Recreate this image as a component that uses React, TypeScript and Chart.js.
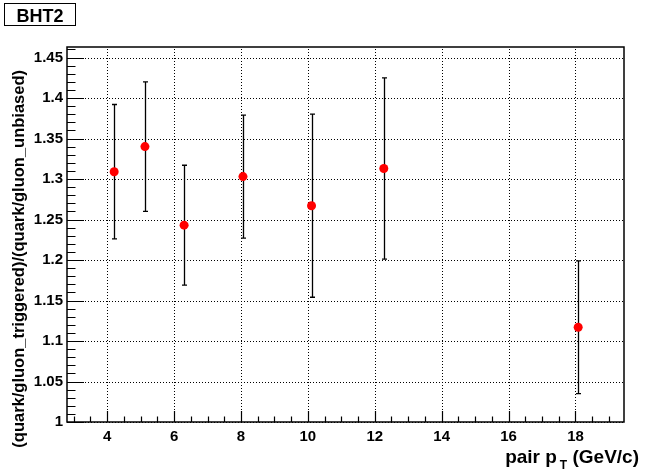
import React, { useEffect, useRef } from "react";
import { Chart, registerables } from "chart.js";

Chart.register(...registerables);

const xVals = [4.21, 5.13, 6.3, 8.06, 10.11, 12.27, 18.08];
const yVals = [1.309, 1.340, 1.243, 1.303, 1.267, 1.313, 1.117];
const yErrs = [0.083, 0.080, 0.074, 0.076, 0.113, 0.112, 0.082];

const xTicks = [4, 6, 8, 10, 12, 14, 16, 18];
const yTicks = [1, 1.05, 1.1, 1.15, 1.2, 1.25, 1.3, 1.35, 1.4, 1.45];
const yTickLabels = ["1", "1.05", "1.1", "1.15", "1.2", "1.25", "1.3", "1.35", "1.4", "1.45"];

const X_MIN = 2.8;
const X_MAX = 19.45;
const Y_MIN = 1.0;
const Y_MAX = 1.463;

const FONT = "'Liberation Sans', Arial, Helvetica, sans-serif";

const rootPlugin = {
  id: "rootStyle",
  beforeDatasetsDraw(chart: any) {
    const ctx = chart.ctx;
    const { left, right, top, bottom } = chart.chartArea;
    const xs = chart.scales.x;
    const ys = chart.scales.y;
    ctx.save();
    ctx.strokeStyle = "#000";
    ctx.lineWidth = 1;
    ctx.setLineDash([1, 2]);
    xTicks.forEach((v) => {
      const px = Math.round(xs.getPixelForValue(v)) + 0.5;
      ctx.beginPath();
      ctx.moveTo(px, bottom);
      ctx.lineTo(px, top);
      ctx.stroke();
    });
    yTicks.forEach((v) => {
      const py = Math.round(ys.getPixelForValue(v)) + 0.5;
      ctx.beginPath();
      ctx.moveTo(left, py);
      ctx.lineTo(right, py);
      ctx.stroke();
    });
    ctx.setLineDash([]);
    ctx.lineWidth = 1.3;
    xVals.forEach((xv, i) => {
      const px = Math.round(xs.getPixelForValue(xv)) + 0.5;
      const hi = ys.getPixelForValue(yVals[i] + yErrs[i]);
      const lo = ys.getPixelForValue(yVals[i] - yErrs[i]);
      ctx.beginPath();
      ctx.moveTo(px, hi);
      ctx.lineTo(px, lo);
      ctx.moveTo(px - 2.5, hi);
      ctx.lineTo(px + 2.5, hi);
      ctx.moveTo(px - 2.5, lo);
      ctx.lineTo(px + 2.5, lo);
      ctx.stroke();
    });
    ctx.restore();
  },
  afterDraw(chart: any) {
    const ctx = chart.ctx;
    const { left, right, top, bottom } = chart.chartArea;
    const xs = chart.scales.x;
    const ys = chart.scales.y;
    ctx.save();
    ctx.strokeStyle = "#000";
    ctx.lineWidth = 1.5;
    ctx.strokeRect(left, top, right - left, bottom - top);
    ctx.lineWidth = 1.2;
    ctx.beginPath();
    for (let v = 3; v <= X_MAX + 1e-9; v += 0.5) {
      if (v < X_MIN) continue;
      const px = Math.round(xs.getPixelForValue(v)) + 0.5;
      const major = Math.abs(v / 2 - Math.round(v / 2)) < 1e-6;
      const len = major ? 11 : 5.5;
      ctx.moveTo(px, bottom);
      ctx.lineTo(px, bottom - len);
    }
    for (let k = 0; k <= 46; k++) {
      const v = 1 + k * 0.01;
      if (v > Y_MAX) break;
      const py = Math.round(ys.getPixelForValue(v)) + 0.5;
      const major = k % 5 === 0;
      const len = major ? 17 : 8.5;
      ctx.moveTo(left, py);
      ctx.lineTo(left + len, py);
    }
    ctx.stroke();

    // title box
    ctx.fillStyle = "#fff";
    ctx.fillRect(4, 3, 72, 23);
    ctx.lineWidth = 1;
    ctx.strokeRect(4.5, 3.5, 71, 22);
    ctx.fillStyle = "#000";
    ctx.font = `bold 18px ${FONT}`;
    ctx.textAlign = "center";
    ctx.textBaseline = "alphabetic";
    ctx.fillText("BHT2", 40, 21.5);

    // y title
    ctx.save();
    ctx.translate(23.5, 70);
    ctx.rotate(-Math.PI / 2);
    ctx.font = `bold 16.5px ${FONT}`;
    ctx.textAlign = "right";
    ctx.textBaseline = "alphabetic";
    ctx.fillText("(quark/gluon_triggered)/(quark/gluon_unbiased)", 0, 0);
    ctx.restore();

    // x title
    const big = `bold 19px ${FONT}`;
    const small = `bold 12px ${FONT}`;
    ctx.textAlign = "left";
    ctx.font = big;
    const p1 = "pair p";
    const p2 = "T";
    const p3 = " (GeV/c)";
    const w1 = ctx.measureText(p1).width;
    const w3 = ctx.measureText(p3).width;
    ctx.font = small;
    const w2 = ctx.measureText(p2).width;
    const gap = 3;
    const xEnd = 639;
    const x0 = xEnd - w1 - w2 - w3 - gap;
    const base = 463;
    ctx.font = big;
    ctx.fillText(p1, x0, base);
    ctx.font = small;
    ctx.fillText(p2, x0 + w1 + gap, base + 6);
    ctx.font = big;
    ctx.fillText(p3, x0 + w1 + w2 + gap, base);
    ctx.restore();
  },
};

export default function App() {
  const ref = useRef<HTMLCanvasElement | null>(null);
  useEffect(() => {
    document.body.style.margin = "0";
    const canvas = ref.current;
    if (!canvas) return;
    const chart = new Chart(canvas, {
      type: "scatter",
      data: {
        datasets: [
          {
            data: xVals.map((x, i) => ({ x, y: yVals[i] })),
            pointRadius: 4.5,
            pointHoverRadius: 4.5,
            backgroundColor: "#ff0000",
            borderColor: "#ff0000",
            borderWidth: 0,
          },
        ],
      },
      options: {
        animation: false,
        responsive: false,
        devicePixelRatio: 1,
        layout: { padding: { top: 47, right: 31, left: 0, bottom: 0 } },
        plugins: { legend: { display: false }, tooltip: { enabled: false } },
        scales: {
          x: {
            type: "linear",
            min: X_MIN,
            max: X_MAX,
            grid: { display: false, drawTicks: false },
            border: { display: false },
            afterBuildTicks: (s: any) => {
              s.ticks = xTicks.map((v) => ({ value: v }));
            },
            afterFit: (s: any) => {
              s.height = 51;
            },
            ticks: {
              padding: 6,
              color: "#000",
              font: { family: FONT, size: 15, weight: "bold" },
              maxRotation: 0,
              callback: (v: any) => String(v),
            },
          },
          y: {
            type: "linear",
            min: Y_MIN,
            max: Y_MAX,
            grid: { display: false, drawTicks: false },
            border: { display: false },
            afterBuildTicks: (s: any) => {
              s.ticks = yTicks.map((v) => ({ value: v }));
            },
            afterFit: (s: any) => {
              s.width = 67;
            },
            ticks: {
              padding: 4,
              color: "#000",
              font: { family: FONT, size: 15, weight: "bold" },
              callback: (v: any) => {
                const i = yTicks.findIndex((t) => Math.abs(t - v) < 1e-6);
                return i >= 0 ? yTickLabels[i] : "";
              },
            },
          },
        },
      },
      plugins: [rootPlugin],
    });
    return () => chart.destroy();
  }, []);
  return (
    <div style={{ position: "fixed", left: 0, top: 0, width: 655, height: 473, background: "#fff" }}>
      <canvas ref={ref} width={655} height={473} style={{ width: 655, height: 473 }} />
    </div>
  );
}
